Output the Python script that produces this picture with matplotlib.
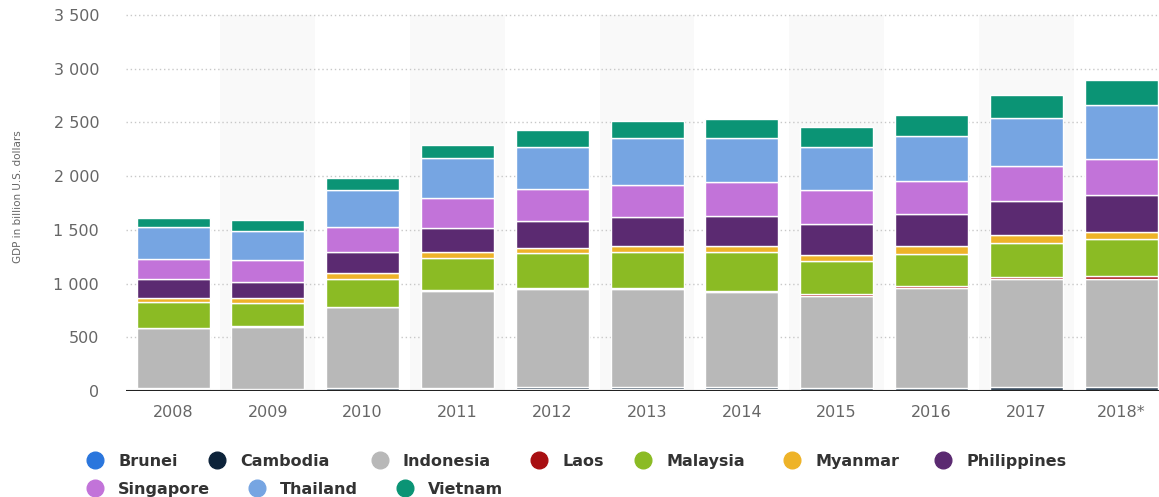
import matplotlib.pyplot as plt
from matplotlib.lines import Line2D
from matplotlib.ticker import FuncFormatter

# values, billion U.S. dollars
years = ['2008', '2009', '2010', '2011', '2012', '2013', '2014', '2015', '2016', '2017', '2018*']
countries = ['Brunei', 'Cambodia', 'Indonesia', 'Laos', 'Malaysia', 'Myanmar',
             'Philippines', 'Singapore', 'Thailand', 'Vietnam']

brunei = [14, 11, 13, 18, 19, 18, 17, 13, 11, 12, 13]
cambodia = [10, 10, 11, 13, 14, 15, 17, 18, 20, 22, 24]
indonesia = [559, 578, 755, 897, 915, 914, 887, 857, 930, 1013, 1008]
laos = [5, 5, 7, 8, 10, 11, 12, 14, 19, 14, 21]
malaysia = [236, 214, 252, 298, 323, 332, 357, 308, 298, 320, 346]
myanmar = [44, 43, 56, 56, 53, 56, 56, 56, 68, 68, 65]
philippines = [170, 156, 196, 224, 249, 271, 280, 292, 305, 317, 345]
singapore = [194, 205, 237, 284, 295, 305, 318, 311, 306, 327, 336]
thailand = [295, 271, 348, 373, 392, 429, 407, 405, 416, 451, 501]
vietnam = [84, 96, 110, 121, 156, 165, 177, 186, 199, 211, 233]

series = [brunei, cambodia, indonesia, laos, malaysia, myanmar,
          philippines, singapore, thailand, vietnam]
colors = ['#2a76dd', '#0d233a', '#b8b8b8', '#a80f12', '#8bbb24', '#eeb328',
          '#5b2a71', '#c273d9', '#76a5e2', '#0b9475']

fig = plt.figure(figsize=(11.59, 4.97), dpi=100)
ax = fig.add_axes([0.1084, 0.2133, 0.8916, 0.7565])

x = list(range(len(years)))

# alternating light bands behind every other year
for i in x:
    if i % 2 == 1:
        ax.axvspan(i - 0.5, i + 0.5, color='#f9f9f9', zorder=0, lw=0)

bottom = [0] * len(years)
for name, vals, col in zip(countries, series, colors):
    ax.bar(x, vals, width=0.77, bottom=bottom, color=col, edgecolor='white',
           linewidth=1, zorder=3, label=name)
    bottom = [b + v for b, v in zip(bottom, vals)]

ax.set_xlim(-0.5, 10.4)
ax.set_ylim(0, 3500)
ax.set_yticks(range(0, 3501, 500))
ax.yaxis.set_major_formatter(FuncFormatter(lambda v, p: f'{int(v):,}'.replace(',', ' ')))
ax.set_xticks(x)
ax.set_xticklabels(years)

for v in range(500, 3501, 500):
    ax.axhline(v, color='#c8c8c8', lw=1, ls=(0, (1, 2)), zorder=1, clip_on=False)
ax.axhline(0, color='#222222', lw=1.5, zorder=4)

for s in ax.spines.values():
    s.set_visible(False)
ax.tick_params(axis='both', length=0, colors='#666666', labelsize=11.5)
ax.tick_params(axis='y', pad=19)
ax.tick_params(axis='x', pad=10)
ax.patch.set_alpha(0)

fig.text(18 / 1159, 1 - 197 / 497, 'GDP in billion U.S. dollars', rotation=90,
         ha='center', va='center', fontsize=7.5, color='#666666')

# legend, laid out like the original (two rows)
leg_pos = [(95, 460), (217, 460), (380, 460), (539, 460), (643, 460), (792, 460),
           (943, 460), (95, 488), (257, 488), (405, 488)]
for (px, py), name, col in zip(leg_pos, countries, colors):
    fx = px / 1159
    fy = 1 - py / 497
    fig.add_artist(Line2D([fx], [fy], marker='o', markersize=12, color=col,
                          linestyle='none', transform=fig.transFigure))
    fig.text(fx + 23 / 1159, fy, name, ha='left', va='center_baseline', fontsize=11.5,
             fontweight='bold', color='#333333')

fig.savefig('out.png', dpi=100)
